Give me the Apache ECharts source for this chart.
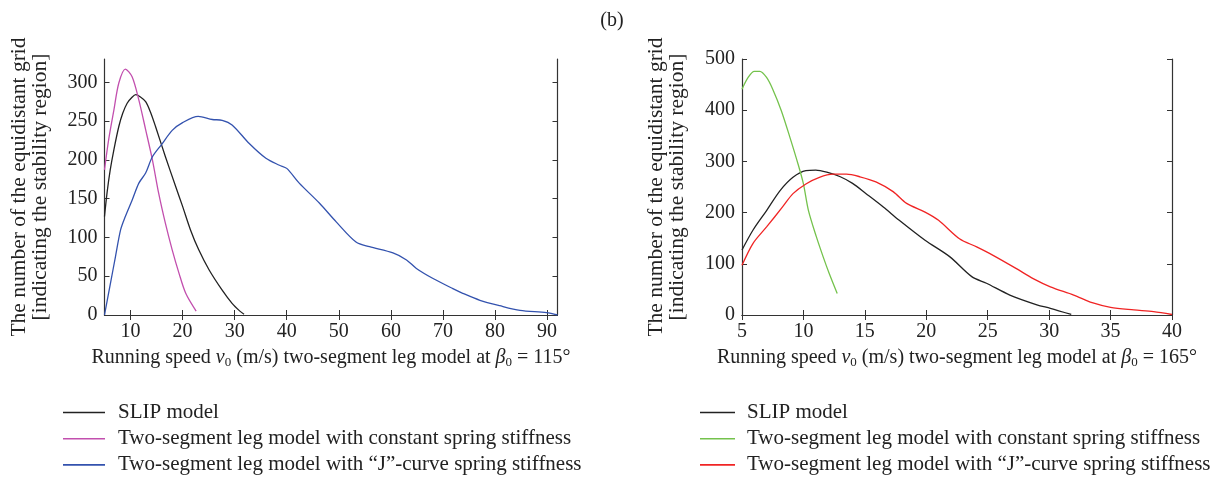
<!DOCTYPE html>
<html>
<head>
<meta charset="utf-8">
<script src="https://cdn.jsdelivr.net/npm/echarts@6/dist/echarts.min.js"></script>
<style>
  html, body { margin: 0; padding: 0; background: #fff; }
  #chart { width: 1224px; height: 479px; }
</style>
</head>
<body>
<div id="chart"></div>
<script>
// left panel, beta0 = 115 deg
const leftSlip = [[5,127],[5.5,158],[6.1,187],[6.8,213],[7.75,243],[8.5,260],[9.35,273],[10.2,280],[11,284],[11.9,281],[12.9,275],[13.8,262],[14.8,243],[16.7,204],[18.7,165],[20,140],[21.5,110],[23.1,84],[25.1,58],[27.6,32],[29.5,15],[31,5],[31.8,1]]
const leftConst = [[5,187],[5.8,226],[6.8,264],[7.75,299],[9,317],[10.3,307],[11.6,277],[12.9,239],[14.2,200],[15.4,157],[16.7,118],[18,84],[19.3,54],[20.6,28],[22.6,5]]
const leftJ = [[5,0],[6.15,41],[7.1,75],[8.1,110],[9,127],[10.3,148],[11.6,170],[12.9,183],[14.2,204],[16.1,221],[18,238],[20,248],[23,256],[25.7,252],[27.6,251],[29.5,245],[32.8,221],[36,202],[38.6,193],[40,189],[42.4,170],[46.3,144],[49.5,120],[53.3,94],[55.9,88],[60.4,80],[63,71],[64.9,60],[68.1,47],[71.9,34],[73.8,28],[77.1,19],[80.9,12],[84.8,6],[89.9,3],[92,0]]

// right panel, beta0 = 165 deg
const rightSlip = [[5,127],[5.9,166],[7,204],[8.1,243],[9.15,269],[10.2,282],[11,283],[11.9,279],[13,270],[14,257],[15.1,237],[16.5,211],[17.8,185],[19.9,146],[21.9,114],[23.7,75],[24.9,62],[26.8,39],[29,20],[30.1,13],[31.8,1]]
const rightConst = [[5,441],[5.5,464],[6,476],[6.45,476],[7,464],[7.5,441],[8.2,399],[8.9,347],[9.56,295],[10,256],[10.4,205],[11.05,153],[11.6,114],[12.1,81],[12.75,42]]
const rightJ = [[5,97],[5.9,140],[7,172],[8.3,211],[9.15,237],[10.2,256],[11.3,269],[12.4,275],[13.5,275],[14.6,270],[15.9,260],[17.3,241],[18.4,218],[19.9,201],[21,185],[22.7,149],[24.1,133],[25.4,117],[27.3,91],[28.7,71],[30.1,55],[32,39],[33.5,24],[35,15],[36.9,10],[38.5,6.5],[40,1]]

const leftXTicks = [10, 20, 30, 40, 50, 60, 70, 80, 90]
const leftYTicks = [0, 50, 100, 150, 200, 250, 300]
const rightXTicks = [5, 10, 15, 20, 25, 30, 35, 40]
const rightYTicks = [0, 100, 200, 300, 400, 500]

const names = ['SLIP model', 'Two-segment leg model with constant spring stiffness', 'Two-segment leg model with \u201cJ\u201d-curve spring stiffness']
const leftColors = ['#222222', '#c24fae', '#3352ae']
const rightColors = ['#222222', '#74c24c', '#f02424']

const FONT = '"Liberation Serif", "DejaVu Serif", serif'
const AXIS = '#333'
const yName = 'The number of the equidistant grid\n[indicating the stability region]'

const xName = (beta) => '{n|Running speed }{i|v}{s|0}{n| (m/s) two-segment leg model at }{i|\u03b2}{s|0}{n| = ' + beta + '\u00b0}'
const xRich = {
  n: { fontFamily: FONT, fontSize: 20, color: '#222' },
  i: { fontFamily: FONT, fontSize: 20, fontStyle: 'italic', color: '#222' },
  s: { fontFamily: FONT, fontSize: 13, color: '#222', padding: [10, 0, 0, 0] },
}

function xAxisPair(gridIndex, min, max, ticks, beta) {
  const base = {
    gridIndex, type: 'value', min, max,
    axisLine: { lineStyle: { color: AXIS, width: 1.2 } },
    splitLine: { show: false },
  }
  return [
    { ...base, position: 'bottom',
      axisTick: { inside: true, length: 5, customValues: ticks, lineStyle: { color: AXIS } },
      axisLabel: { customValues: ticks, fontFamily: FONT, fontSize: 20, color: '#222', margin: 7 },
      name: xName(beta), nameLocation: 'middle', nameGap: 31,
      nameTextStyle: { rich: xRich } },
    { ...base, position: 'top',
      axisTick: { inside: true, length: 5, customValues: ticks, lineStyle: { color: AXIS } },
      axisLabel: { show: false } },
  ]
}

function yAxisPair(gridIndex, max, ticks) {
  const base = {
    gridIndex, type: 'value', min: 0, max,
    axisLine: { show: true, lineStyle: { color: AXIS, width: 1.2 } },
    splitLine: { show: false },
  }
  return [
    { ...base, position: 'left',
      axisTick: { show: true, inside: true, length: 5, customValues: ticks, lineStyle: { color: AXIS } },
      axisLabel: { customValues: ticks, fontFamily: FONT, fontSize: 20, color: '#222', margin: 7 },
      name: yName, nameLocation: 'middle', nameRotate: 90, nameGap: 54,
      nameTextStyle: { fontFamily: FONT, fontSize: 21.5, color: '#222', lineHeight: 21 } },
    { ...base, position: 'right',
      axisTick: { show: true, inside: true, length: 5, customValues: ticks, lineStyle: { color: AXIS } },
      axisLabel: { show: false } },
  ]
}

function line(name, data, color, xi, yi) {
  return {
    type: 'line', name, data, xAxisIndex: xi, yAxisIndex: yi,
    symbol: 'none', smooth: 0.3, silent: true,
    lineStyle: { color, width: 1.3 }, itemStyle: { color },
  }
}

const legendBase = {
  orient: 'vertical', top: 402, height: 100, padding: 0, icon: 'rect', itemHeight: 1.6, itemGap: 5.2,
  selectedMode: false,
}

const chart = echarts.init(document.getElementById('chart'))
chart.setOption({
  animation: false,
  backgroundColor: '#fff',
  title: { text: '(b)', left: 'center', top: 6, textStyle: { fontFamily: FONT, fontSize: 20, fontWeight: 'normal', color: '#222' } },
  grid: [
    { left: 104.5, top: 59, width: 453, height: 256 },
    { left: 742, top: 59, width: 430, height: 256 },
  ],
  xAxis: [...xAxisPair(0, 5, 92, leftXTicks, 115), ...xAxisPair(1, 5, 40, rightXTicks, 165)],
  yAxis: [...yAxisPair(0, 330, leftYTicks), ...yAxisPair(1, 500, rightYTicks)],
  legend: [
    { ...legendBase, left: 63, itemWidth: 42,
      data: names,
      textStyle: { fontFamily: FONT, fontSize: 21, color: '#222', padding: [0, 0, 0, 8] } },
    { ...legendBase, left: 700, itemWidth: 35,
      data: names.map(n => n + ' '),
      textStyle: { fontFamily: FONT, fontSize: 21, color: '#222', padding: [0, 0, 0, 7] } },
  ],
  series: [
    line(names[0], leftSlip, leftColors[0], 0, 0),
    line(names[1], leftConst, leftColors[1], 0, 0),
    line(names[2], leftJ, leftColors[2], 0, 0),
    line(names[0] + ' ', rightSlip, rightColors[0], 2, 2),
    line(names[1] + ' ', rightConst, rightColors[1], 2, 2),
    line(names[2] + ' ', rightJ, rightColors[2], 2, 2),
  ],
})
</script>
</body>
</html>
